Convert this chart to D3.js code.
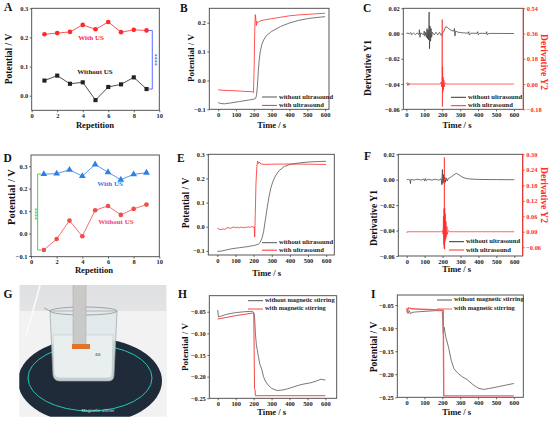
<!DOCTYPE html>
<html>
<head>
<meta charset="utf-8">
<script src="https://cdn.jsdelivr.net/npm/d3@7"></script>
<style>
body { margin: 0; background: #fff; }
svg { display: block; font-family: "Liberation Serif", "Times New Roman", serif; font-weight: bold; }
</style>
</head>
<body>
<svg id="fig" width="550" height="423"></svg>
<script>
// ---- data ----
var reps = [1, 2, 3, 4, 5, 6, 7, 8, 9];
var repTicks = [0, 2, 4, 6, 8, 10];
var timeTicks = [0, 100, 200, 300, 400, 500, 600];

var aWithUS = [0.211, 0.215, 0.219, 0.243, 0.228, 0.253, 0.218, 0.226, 0.224];
var aWithoutUS = [0.052, 0.069, 0.041, 0.046, -0.015, 0.030, 0.039, 0.063, 0.023];
var dWithUS = [0.265, 0.267, 0.284, 0.256, 0.308, 0.273, 0.240, 0.264, 0.271];
var dWithoutUS = [-0.073, -0.024, 0.058, -0.012, 0.104, 0.123, 0.083, 0.110, 0.129];

// [time s, potential V]
var bWithout = [[0,-0.077],[15,-0.080],[35,-0.081],[70,-0.078],[120,-0.073],[170,-0.068],[200,-0.065],[210,-0.062],[215,-0.052],[220,-0.02],[225,0.03],[230,0.07],[236,0.1],[245,0.125],[255,0.14],[270,0.155],[300,0.17],[350,0.187],[400,0.199],[450,0.208],[500,0.214],[550,0.218],[600,0.221]];
var bWith = [[0,-0.032],[20,-0.034],[60,-0.035],[100,-0.036],[150,-0.038],[190,-0.039],[198,-0.042],[202,0.05],[205,0.17],[208,0.228],[211,0.215],[214,0.19],[217,0.205],[222,0.2],[230,0.205],[260,0.21],[300,0.214],[350,0.219],[400,0.224],[450,0.227],[500,0.229],[550,0.231],[600,0.233]];

var cY1 = [[0,0],[10,0.0005],[15,-0.0005],[25,0.0008],[30,-0.001],[40,0.0004],[50,-0.0008],[60,0.0005],[70,-0.0008],[73,0.003],[76,-0.003],[80,0.0005],[95,-0.001],[100,0.002],[103,-0.002],[108,0.001],[112,-0.003],[115,0.004],[118,-0.004],[121,0.003],[124,-0.005],[127,0.017],[129,-0.012],[132,0.006],[135,-0.006],[138,0.004],[141,-0.003],[145,0.001],[155,-0.001],[165,0.001],[175,-0.001],[185,0.001],[195,-0.0015],[205,0.001],[210,0.002],[215,0.004],[220,0.0055],[228,0.005],[235,0.004],[245,0.003],[255,0.0022],[265,0.002],[268,0.004],[271,-0.002],[275,0.002],[285,0.0012],[300,0.0008],[320,0.0005],[345,0.0003],[348,0.0015],[351,-0.0012],[360,0.0003],[395,0.0002],[398,0.0015],[401,-0.001],[410,0.0002],[445,0.0001],[448,0.0015],[451,-0.001],[460,0.0001],[500,0.0001],[600,0]];
var cY2 = [[0,0],[5,0.01],[8,-0.012],[12,0.008],[16,-0.008],[20,0.005],[25,0],[190,0],[194,0.015],[197,-0.02],[199,0.06],[200,0.46],[201,-0.16],[202,0.12],[203,-0.06],[205,0.05],[207,-0.04],[209,0.03],[212,-0.02],[215,0.01],[220,0],[600,0]];

var eWithout = [[0,-0.102],[20,-0.101],[50,-0.096],[80,-0.091],[120,-0.087],[160,-0.083],[200,-0.078],[225,-0.073],[235,-0.066],[245,-0.05],[255,-0.02],[265,0.03],[275,0.08],[285,0.125],[295,0.16],[305,0.185],[320,0.21],[340,0.232],[370,0.25],[400,0.258],[450,0.264],[500,0.268],[550,0.27],[600,0.271]];
var eWith = [[0,-0.006],[10,-0.01],[20,-0.012],[30,-0.009],[40,-0.011],[50,-0.006],[60,-0.003],[70,-0.007],[80,-0.004],[90,-0.001],[100,-0.004],[110,-0.002],[120,-0.005],[130,-0.001],[140,-0.004],[150,-0.002],[160,-0.003],[170,0],[180,-0.003],[190,0.001],[198,-0.002],[203,0],[206,-0.042],[209,0.05],[213,0.18],[218,0.25],[222,0.272],[227,0.262],[232,0.268],[240,0.26],[260,0.258],[300,0.259],[400,0.26],[500,0.259],[600,0.258]];

var fY1 = [[0,0],[10,0.0003],[18,-0.0003],[21,-0.003],[23,0.0003],[40,-0.0003],[60,0.0004],[80,-0.0003],[95,0.0006],[100,-0.001],[104,0.001],[108,-0.0005],[120,0.0003],[140,-0.0003],[160,0.0004],[180,-0.0004],[192,0.0008],[196,-0.004],[199,0.008],[202,-0.003],[205,0.004],[208,-0.002],[212,0.002],[216,-0.002],[220,0.0015],[226,-0.001],[232,0.001],[240,0.0015],[250,0.0025],[260,0.0035],[270,0.0045],[278,0.005],[290,0.004],[305,0.0025],[320,0.0015],[340,0.0008],[370,0.0004],[420,0.0002],[500,0.0001],[600,0]];
var fY2 = [[0,-0.005],[3,0],[195,0],[200,0.005],[203,-0.01],[205,0.06],[207,-0.05],[208,0.09],[209,-0.065],[210,0.288],[211,-0.068],[212,0.09],[213,-0.04],[215,0.07],[217,-0.03],[219,0.04],[221,-0.02],[224,0.02],[227,-0.01],[232,0.005],[240,0],[600,0]];

var hWithout = [[0,-0.046],[4,-0.062],[20,-0.060],[50,-0.056],[100,-0.052],[150,-0.050],[190,-0.049],[200,-0.051],[205,-0.06],[210,-0.1],[215,-0.125],[225,-0.15],[235,-0.172],[245,-0.182],[255,-0.2],[265,-0.21],[280,-0.219],[300,-0.227],[330,-0.232],[360,-0.231],[390,-0.228],[420,-0.224],[450,-0.22],[480,-0.217],[520,-0.214],[550,-0.21],[575,-0.206],[600,-0.208]];
var hWith = [[0,-0.067],[50,-0.063],[100,-0.059],[150,-0.056],[195,-0.053],[201,-0.053],[203,-0.14],[205,-0.228],[208,-0.23],[210,-0.244],[600,-0.244]];

var iWithout = [[0,-0.064],[8,-0.068],[15,-0.062],[22,-0.069],[30,-0.066],[45,-0.065],[80,-0.064],[120,-0.063],[160,-0.062],[195,-0.062],[200,-0.064],[205,-0.112],[210,-0.098],[220,-0.12],[235,-0.142],[250,-0.17],[265,-0.188],[285,-0.197],[310,-0.205],[340,-0.212],[370,-0.222],[400,-0.23],[430,-0.233],[460,-0.231],[500,-0.228],[550,-0.224],[600,-0.22]];
var iWith = [[0,-0.057],[5,-0.064],[10,-0.056],[30,-0.058],[80,-0.059],[150,-0.06],[200,-0.061],[205,-0.061],[208,-0.247],[600,-0.247]];

var RED = '#ff2a2a', GRAY = '#555', BLACK = '#222', BLUE = '#2f7fe8', GREEN = '#3cc83c';

var svg = d3.select('#fig');

function styleAxis(sel, color) {
  sel.attr('font-family', null).attr('font-size', 6.4).attr('font-weight', 'bold');
  sel.select('.domain').remove();
  sel.selectAll('line').attr('stroke', color || '#444').attr('stroke-width', 0.8);
  sel.selectAll('text').attr('fill', color || '#222');
}

// one framed panel: box = [left, top, right, bottom]
function panel(o) {
  var g = svg.append('g');
  var b = o.box;
  var x = d3.scaleLinear().domain(o.xDomain).range([b[0], b[2]]);
  var y = d3.scaleLinear().domain(o.yDomain).range([b[3], b[1]]);
  g.append('g').attr('transform', 'translate(0,' + b[3] + ')')
    .call(d3.axisBottom(x).tickValues(o.xTicks).tickSize(2).tickPadding(1.2).tickFormat(d3.format('d')))
    .call(styleAxis);
  g.append('g').attr('transform', 'translate(' + b[0] + ',0)')
    .call(d3.axisLeft(y).tickValues(o.yTicks).tickSize(2).tickPadding(1.5).tickFormat(o.yFmt))
    .call(styleAxis);
  g.append('rect').attr('x', b[0]).attr('y', b[1]).attr('width', b[2] - b[0]).attr('height', b[3] - b[1])
    .attr('fill', 'none').attr('stroke', '#444').attr('stroke-width', 0.9);
  g.append('text').attr('x', o.xLab[0]).attr('y', o.xLab[1]).attr('text-anchor', 'middle')
    .attr('font-size', 8.6).attr('fill', '#111').text(o.xTitle);
  g.append('text').attr('transform', 'translate(' + o.yLab[0] + ',' + o.yLab[1] + ') rotate(-90)')
    .attr('text-anchor', 'middle').attr('dominant-baseline', 'middle')
    .attr('font-size', o.yLabSize || 9).attr('fill', '#111').text(o.yTitle);
  svg.append('text').attr('x', o.letter[0]).attr('y', o.letter[1]).attr('font-size', 11.5)
    .attr('fill', '#111').text(o.name);
  return { g: g, x: x, y: y };
}

function curve(p, data, color, w, yScale) {
  var ys = yScale || p.y;
  p.g.append('path').datum(data).attr('fill', 'none').attr('stroke', color)
    .attr('stroke-width', w || 0.8).attr('stroke-linejoin', 'round')
    .attr('d', d3.line().x(function (d) { return p.x(d[0]); }).y(function (d) { return ys(d[1]); }));
}

function legend(x0, y0, dy, items, size) {
  items.forEach(function (it, i) {
    var yy = y0 + i * dy;
    svg.append('line').attr('x1', x0).attr('x2', x0 + 15).attr('y1', yy).attr('y2', yy)
      .attr('stroke', it[1]).attr('stroke-width', 1);
    svg.append('text').attr('x', x0 + 17).attr('y', yy).attr('dominant-baseline', 'middle')
      .attr('font-size', size || 6.6).attr('fill', '#222').text(it[0]);
  });
}

function markers(p, xs, ys, color, shape) {
  p.g.append('path').datum(xs.map(function (d, i) { return [d, ys[i]]; }))
    .attr('fill', 'none').attr('stroke', color).attr('stroke-width', 0.8)
    .attr('d', d3.line().x(function (d) { return p.x(d[0]); }).y(function (d) { return p.y(d[1]); }));
  p.g.selectAll(null).data(xs).enter().append('path')
    .attr('transform', function (d, i) { return 'translate(' + p.x(d) + ',' + p.y(ys[i]) + ')'; })
    .attr('d', d3.symbol().type(shape).size(shape === d3.symbolTriangle ? 20 : 17))
    .attr('fill', color);
}

var f1 = d3.format('.1f'), f2 = d3.format('.2f');

// ---- A ----
var pA = panel({ name: 'A', letter: [4, 11], box: [31.7, 8.3, 159.3, 110.3], xDomain: [0, 10], yDomain: [-0.05, 0.3],
  xTicks: repTicks, yTicks: [0, 0.1, 0.2, 0.3], yFmt: f1, xTitle: 'Repetition', xLab: [95, 128],
  yTitle: 'Potential / V', yLab: [9.5, 59], yLabSize: 9.5 });
markers(pA, reps, aWithUS, RED, d3.symbolCircle);
markers(pA, reps, aWithoutUS, BLACK, d3.symbolSquare);
pA.g.append('text').attr('x', pA.x(4.65)).attr('y', pA.y(0.197)).attr('text-anchor', 'middle')
  .attr('dominant-baseline', 'middle').attr('font-size', 7).attr('fill', RED).text('With US');
pA.g.append('text').attr('x', pA.x(4.96)).attr('y', pA.y(0.079)).attr('text-anchor', 'middle')
  .attr('dominant-baseline', 'middle').attr('font-size', 7).attr('fill', BLACK).text('Without US');
(function () {
  var xa = pA.x(9.15), xb = pA.x(9.45), ya = pA.y(aWithUS[8]), yb = pA.y(aWithoutUS[8]);
  pA.g.append('path').attr('d', 'M' + xa + ',' + ya + 'H' + xb + 'V' + yb + 'H' + xa)
    .attr('fill', 'none').attr('stroke', '#4a5cff').attr('stroke-width', 0.9);
  pA.g.append('text').attr('transform', 'translate(' + pA.x(9.62) + ',' + ((ya + yb) / 2) + ') rotate(90)')
    .attr('text-anchor', 'middle').attr('dominant-baseline', 'middle').attr('font-size', 6)
    .attr('fill', '#4a5cff').text('****');
})();

// ---- B ----
var pB = panel({ name: 'B', letter: [180, 12], box: [209.3, 8.3, 329, 109.3], xDomain: [-50, 622], yDomain: [-0.1, 0.25],
  xTicks: timeTicks, yTicks: [-0.1, 0, 0.1, 0.2], yFmt: f1, xTitle: 'Time / s', xLab: [271.7, 127.5],
  yTitle: 'Potential / V', yLab: [192, 58], yLabSize: 9 });
curve(pB, bWithout, GRAY, 0.8);
curve(pB, bWith, RED, 0.8);
legend(262, 97, 8.4, [['without ultrasound', GRAY], ['with ultrasound', RED]]);

// ---- C ----
function derivPanel(o, y1, y2, y2Domain, y2Ticks) {
  var p = panel(o);
  var b = o.box;
  var yR = d3.scaleLinear().domain(y2Domain).range([b[3], b[1]]);
  curve(p, y1, '#333', 0.7);
  curve(p, y2, RED, 0.7, yR);
  p.g.append('g').attr('transform', 'translate(' + b[2] + ',0)')
    .call(d3.axisRight(yR).tickValues(y2Ticks).tickSize(2).tickPadding(1.5).tickFormat(f2))
    .call(function (s) { styleAxis(s, RED); });
  p.g.append('line').attr('x1', b[2]).attr('x2', b[2]).attr('y1', b[1]).attr('y2', b[3])
    .attr('stroke', RED).attr('stroke-width', 1);
  p.g.append('text').attr('transform', 'translate(' + o.y2Lab[0] + ',' + o.y2Lab[1] + ') rotate(90)')
    .attr('text-anchor', 'middle').attr('dominant-baseline', 'middle').attr('font-size', 9.5)
    .attr('fill', RED).text('Derivative Y2');
  return p;
}
derivPanel({ name: 'C', letter: [363, 12], box: [403.3, 8.3, 523.3, 109.3], xDomain: [-17, 652], yDomain: [-0.06, 0.02],
  xTicks: timeTicks, yTicks: [-0.06, -0.04, -0.02, 0, 0.02], yFmt: f2, xTitle: 'Time / s', xLab: [457, 127.5],
  yTitle: 'Derivative Y1', yLab: [368.5, 68], yLabSize: 9.5, y2Lab: [543, 62] },
  cY1, cY2, [-0.18, 0.54], [-0.18, 0, 0.18, 0.36, 0.54]);
legend(451, 97.3, 8.4, [['without ultrasound', '#333'], ['with ultrasound', RED]]);

// ---- D ----
var pD = panel({ name: 'D', letter: [3.5, 162], box: [31, 155, 159.3, 256.7], xDomain: [0, 10], yDomain: [-0.103, 0.35],
  xTicks: repTicks, yTicks: [-0.1, 0, 0.1, 0.2, 0.3], yFmt: f1, xTitle: 'Repetition', xLab: [94, 273],
  yTitle: 'Potential / V', yLab: [12.5, 197], yLabSize: 10.5 });
markers(pD, reps, dWithUS, BLUE, d3.symbolTriangle);
markers(pD, reps, dWithoutUS, '#f24b4b', d3.symbolCircle);
pD.g.append('text').attr('x', pD.x(6.16)).attr('y', pD.y(0.218)).attr('text-anchor', 'middle')
  .attr('dominant-baseline', 'middle').attr('font-size', 7).attr('fill', BLUE).text('With US');
pD.g.append('text').attr('x', pD.x(6.62)).attr('y', pD.y(0.05)).attr('text-anchor', 'middle')
  .attr('dominant-baseline', 'middle').attr('font-size', 7).attr('fill', '#f24b4b').text('Without US');
(function () {
  var xa = pD.x(0.78), xb = pD.x(0.52), ya = pD.y(dWithUS[0]), yb = pD.y(dWithoutUS[0]);
  pD.g.append('path').attr('d', 'M' + xa + ',' + ya + 'H' + xb + 'V' + yb + 'H' + xa)
    .attr('fill', 'none').attr('stroke', GREEN).attr('stroke-width', 0.9);
  pD.g.append('text').attr('transform', 'translate(' + pD.x(0.29) + ',' + ((ya + yb) / 2 + 2) + ') rotate(90)')
    .attr('text-anchor', 'middle').attr('dominant-baseline', 'middle').attr('font-size', 6)
    .attr('fill', GREEN).text('****');
})();

// ---- E ----
var pE = panel({ name: 'E', letter: [177, 162], box: [208.3, 154.3, 334.3, 255], xDomain: [-50, 645], yDomain: [-0.117, 0.3],
  xTicks: timeTicks, yTicks: [-0.1, 0, 0.1, 0.2, 0.3], yFmt: f1, xTitle: 'Time / s', xLab: [266.7, 275.5],
  yTitle: 'Potential / V', yLab: [187, 203], yLabSize: 9.5 });
curve(pE, eWithout, GRAY, 0.8);
curve(pE, eWith, RED, 0.8);
legend(262, 242.7, 7.5, [['without ultrasound', GRAY], ['with ultrasound', RED]]);

// ---- F ----
derivPanel({ name: 'F', letter: [364, 160], box: [398.3, 154.3, 522.7, 256], xDomain: [-47, 647], yDomain: [-0.06, 0.02],
  xTicks: timeTicks, yTicks: [-0.06, -0.04, -0.02, 0, 0.02], yFmt: f2, xTitle: 'Time / s', xLab: [456.7, 271.5],
  yTitle: 'Derivative Y1', yLab: [375, 218], yLabSize: 9.5, y2Lab: [543, 195] },
  fY1, fY2, [-0.094, 0.30], [-0.06, 0, 0.06, 0.12, 0.18, 0.24, 0.30]);
legend(449, 241.7, 8.3, [['without ultrasound', '#333'], ['with ultrasound', RED]]);

// ---- G (photo, drawn with shapes) ----
(function () {
  var px = 19.3, py = 285, pw = 147.4, ph = 131.7;
  var defs = svg.append('defs');
  defs.append('clipPath').attr('id', 'photoClip').append('rect')
    .attr('x', px).attr('y', py).attr('width', pw).attr('height', ph);
  var wall = defs.append('linearGradient').attr('id', 'wall').attr('x1', 0).attr('x2', 0).attr('y1', 0).attr('y2', 1);
  wall.append('stop').attr('offset', 0).attr('stop-color', '#dfe0e2');
  wall.append('stop').attr('offset', 1).attr('stop-color', '#f4f4f4');
  var g = svg.append('g').attr('clip-path', 'url(#photoClip)');
  g.append('rect').attr('x', px).attr('y', py).attr('width', pw).attr('height', ph).attr('fill', 'url(#wall)');
  g.append('rect').attr('x', px).attr('y', py + 26).attr('width', pw).attr('height', ph - 26).attr('fill', '#f2f2f2');
  g.append('path').attr('d', 'M40,285 C36,300 32,315 26,335').attr('fill', 'none').attr('stroke', '#fafafa').attr('stroke-width', 1.6);
  g.append('ellipse').attr('cx', 90).attr('cy', 381).attr('rx', 72).attr('ry', 43).attr('fill', '#1f2b38');
  g.append('ellipse').attr('cx', 90).attr('cy', 378).attr('rx', 62).attr('ry', 33)
    .attr('fill', 'none').attr('stroke', '#27c6b6').attr('stroke-width', 1);
  g.append('text').attr('x', 98).attr('y', 412).attr('text-anchor', 'middle').attr('font-size', 4.2)
    .attr('font-family', 'DejaVu Sans').attr('font-weight', 'normal').attr('fill', '#d8e2ea').text('Magnetic stirrer');
  // beaker
  g.append('path').attr('d', 'M50,311 L53,375 Q54,381 60,381 L108,381 Q114,381 114,375 L117,311 Z')
    .attr('fill', '#dfe7e8').attr('fill-opacity', 0.88).attr('stroke', '#9aa4a8').attr('stroke-width', 0.7);
  g.append('path').attr('d', 'M53,335 L54,374 Q55,378 60,378 L108,378 Q112,378 112,374 L113,335 Z')
    .attr('fill', '#e9efee').attr('stroke', '#b8c2c2').attr('stroke-width', 0.5);
  g.append('ellipse').attr('cx', 83.5).attr('cy', 311).attr('rx', 33.5).attr('ry', 4)
    .attr('fill', 'none').attr('stroke', '#8a9498').attr('stroke-width', 0.8);
  g.append('path').attr('d', 'M50,311 L44,308').attr('stroke', '#8a9498').attr('stroke-width', 0.8);
  // electrode
  g.append('rect').attr('x', 73).attr('y', 280).attr('width', 13).attr('height', 68).attr('fill', '#c9c9c7')
    .attr('stroke', '#a9a9a7').attr('stroke-width', 0.5);
  g.append('rect').attr('x', 72).attr('y', 344).attr('width', 18).attr('height', 5).attr('fill', '#e0742a');
  g.append('text').attr('x', 95).attr('y', 356).attr('font-size', 4).attr('fill', '#7a8486')
    .attr('font-family', 'DejaVu Sans').text('40');
  svg.append('text').attr('x', 3.5).attr('y', 298).attr('font-size', 11.5).attr('fill', '#111').text('G');
})();

// ---- H ----
var pH = panel({ name: 'H', letter: [178, 298], box: [209.3, 295.7, 336.7, 398.3], xDomain: [-47, 663], yDomain: [-0.25, -0.013],
  xTicks: timeTicks, yTicks: [-0.25, -0.2, -0.15, -0.1, -0.05], yFmt: f2, xTitle: 'Time / s', xLab: [271.7, 415],
  yTitle: 'Potential / V', yLab: [186, 347], yLabSize: 9 });
curve(pH, hWithout, GRAY, 0.8);
curve(pH, hWith, '#f04848', 1);
legend(248, 300.7, 8.3, [['without magnetic stirring', GRAY], ['with magnetic stirring', '#f04848']], 6.4);

// ---- I ----
var pI = panel({ name: 'I', letter: [371, 298], box: [397.3, 295, 523.3, 397.3], xDomain: [-52, 653], yDomain: [-0.25, -0.028],
  xTicks: timeTicks, yTicks: [-0.25, -0.2, -0.15, -0.1, -0.05], yFmt: f2, xTitle: 'Time / s', xLab: [456.7, 414.5],
  yTitle: 'Potential / V', yLab: [375, 347], yLabSize: 9.5 });
curve(pI, iWithout, GRAY, 0.8);
curve(pI, iWith, '#f06060', 1.4);
legend(437, 300, 9, [['without magnetic stirring', GRAY], ['with magnetic stirring', '#f06060']], 6.4);
</script>
</body>
</html>
